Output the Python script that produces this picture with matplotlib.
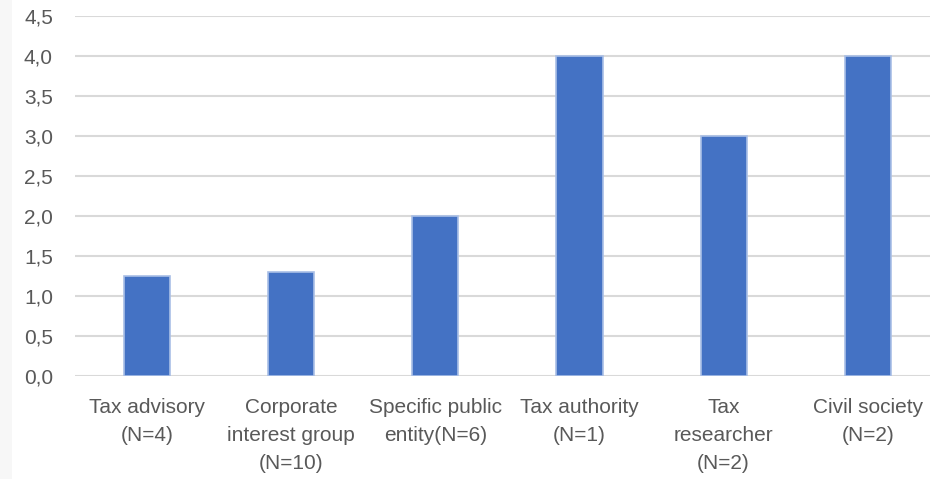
import matplotlib
matplotlib.use("Agg")
from matplotlib import pyplot as plt
from matplotlib.ticker import FuncFormatter
from matplotlib.patches import Rectangle

# data
categories = ["Tax advisory\n(N=4)", "Corporate\ninterest group\n(N=10)",
              "Specific public\nentity(N=6)", "Tax authority\n(N=1)",
              "Tax\nresearcher\n(N=2)", "Civil society\n(N=2)"]
values = [1.25, 1.3, 2.0, 4.0, 3.0, 4.0]

plt.rcParams['font.family'] = ['Liberation Sans', 'DejaVu Sans']

fig = plt.figure(figsize=(9.4, 4.79), dpi=100)
# faint strip on the left edge
fig.patches.append(Rectangle((0, 0), 12 / 940, 1, transform=fig.transFigure,
                             facecolor='#f7f7f7', edgecolor='none'))
ax = fig.add_axes([0.08, 0.215, 0.909, 0.752])

x = range(len(values))
ax.bar(x, values, width=0.32, color='#4472c4', edgecolor='#a9bfe6', linewidth=1.2, zorder=3)

ax.set_ylim(0, 4.5)
ax.set_xlim(-0.5, 5.43)
ax.set_yticks([i * 0.5 for i in range(10)])
ax.yaxis.set_major_formatter(FuncFormatter(lambda v, p: ("%.1f" % v).replace('.', ',')))
ax.grid(axis='y', color='#d9d9d9', linewidth=1.5, zorder=0)

for s in ax.spines.values():
    s.set_visible(False)
ax.tick_params(axis='both', length=0, colors='#595959', labelsize=15)
ax.tick_params(axis='y', pad=16)
ax.tick_params(axis='x', pad=16)

ax.set_xticks(list(x))
ax.set_xticklabels(categories, linespacing=1.6, va='top')

fig.savefig('out.png', dpi=100)
